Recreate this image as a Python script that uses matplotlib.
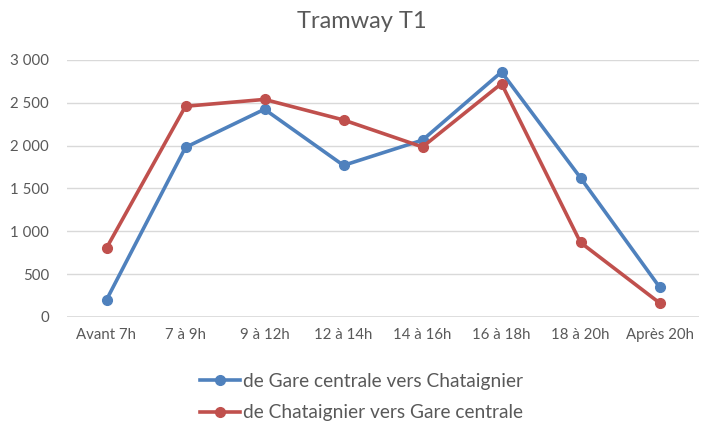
import matplotlib.pyplot as plt
from matplotlib.ticker import FuncFormatter

categories = ["Avant 7h", "7 à 9h", "9 à 12h", "12 à 14h", "14 à 16h",
              "16 à 18h", "18 à 20h", "Après 20h"]
gare_vers_chataignier = [200, 1980, 2425, 1770, 2065, 2860, 1625, 350]
chataignier_vers_gare = [805, 2460, 2540, 2300, 1985, 2725, 870, 165]

plt.rcParams['font.family'] = ['Lato', 'DejaVu Sans']
grey = '#595959'

fig = plt.figure(figsize=(7.02, 4.26), dpi=100)
ax = fig.add_axes([67 / 702, 1 - 317 / 426, 632 / 702, 257 / 426])

x = range(len(categories))
ax.plot(x, gare_vers_chataignier, color='#4F81BD', lw=2.6, marker='o',
        ms=7, label='de Gare centrale vers Chataignier', zorder=3)
ax.plot(x, chataignier_vers_gare, color='#C0504D', lw=2.6, marker='o',
        ms=7, label='de Chataignier vers Gare centrale', zorder=3)

ax.set_xlim(-0.5, len(categories) - 0.5)
ax.set_ylim(0, 3000)
ax.set_yticks(range(0, 3001, 500))
ax.yaxis.set_major_formatter(FuncFormatter(lambda v, p: f"{int(v):,}".replace(",", " ")))
ax.set_xticks(list(x))
ax.set_xticklabels(categories)
ax.tick_params(length=0, colors=grey, labelsize=10.8)
ax.tick_params(axis='y', pad=13)
ax.tick_params(axis='x', pad=8)
ax.grid(axis='y', color='#D9D9D9', lw=1)
ax.set_axisbelow(True)
for s in ax.spines.values():
    s.set_visible(False)
ax.axhline(0, color='#D9D9D9', lw=1.2, zorder=1)

fig.text(0.515, 1 - 21 / 426, "Tramway T1", ha='center', va='center',
         fontsize=17, color=grey)

fig.legend(loc='center', bbox_to_anchor=(0.515, 1 - 397 / 426), frameon=False,
           fontsize=13.8, labelcolor=grey, handlelength=2.1, handletextpad=0.15,
           labelspacing=0.78)

fig.savefig('out.png', dpi=100)
